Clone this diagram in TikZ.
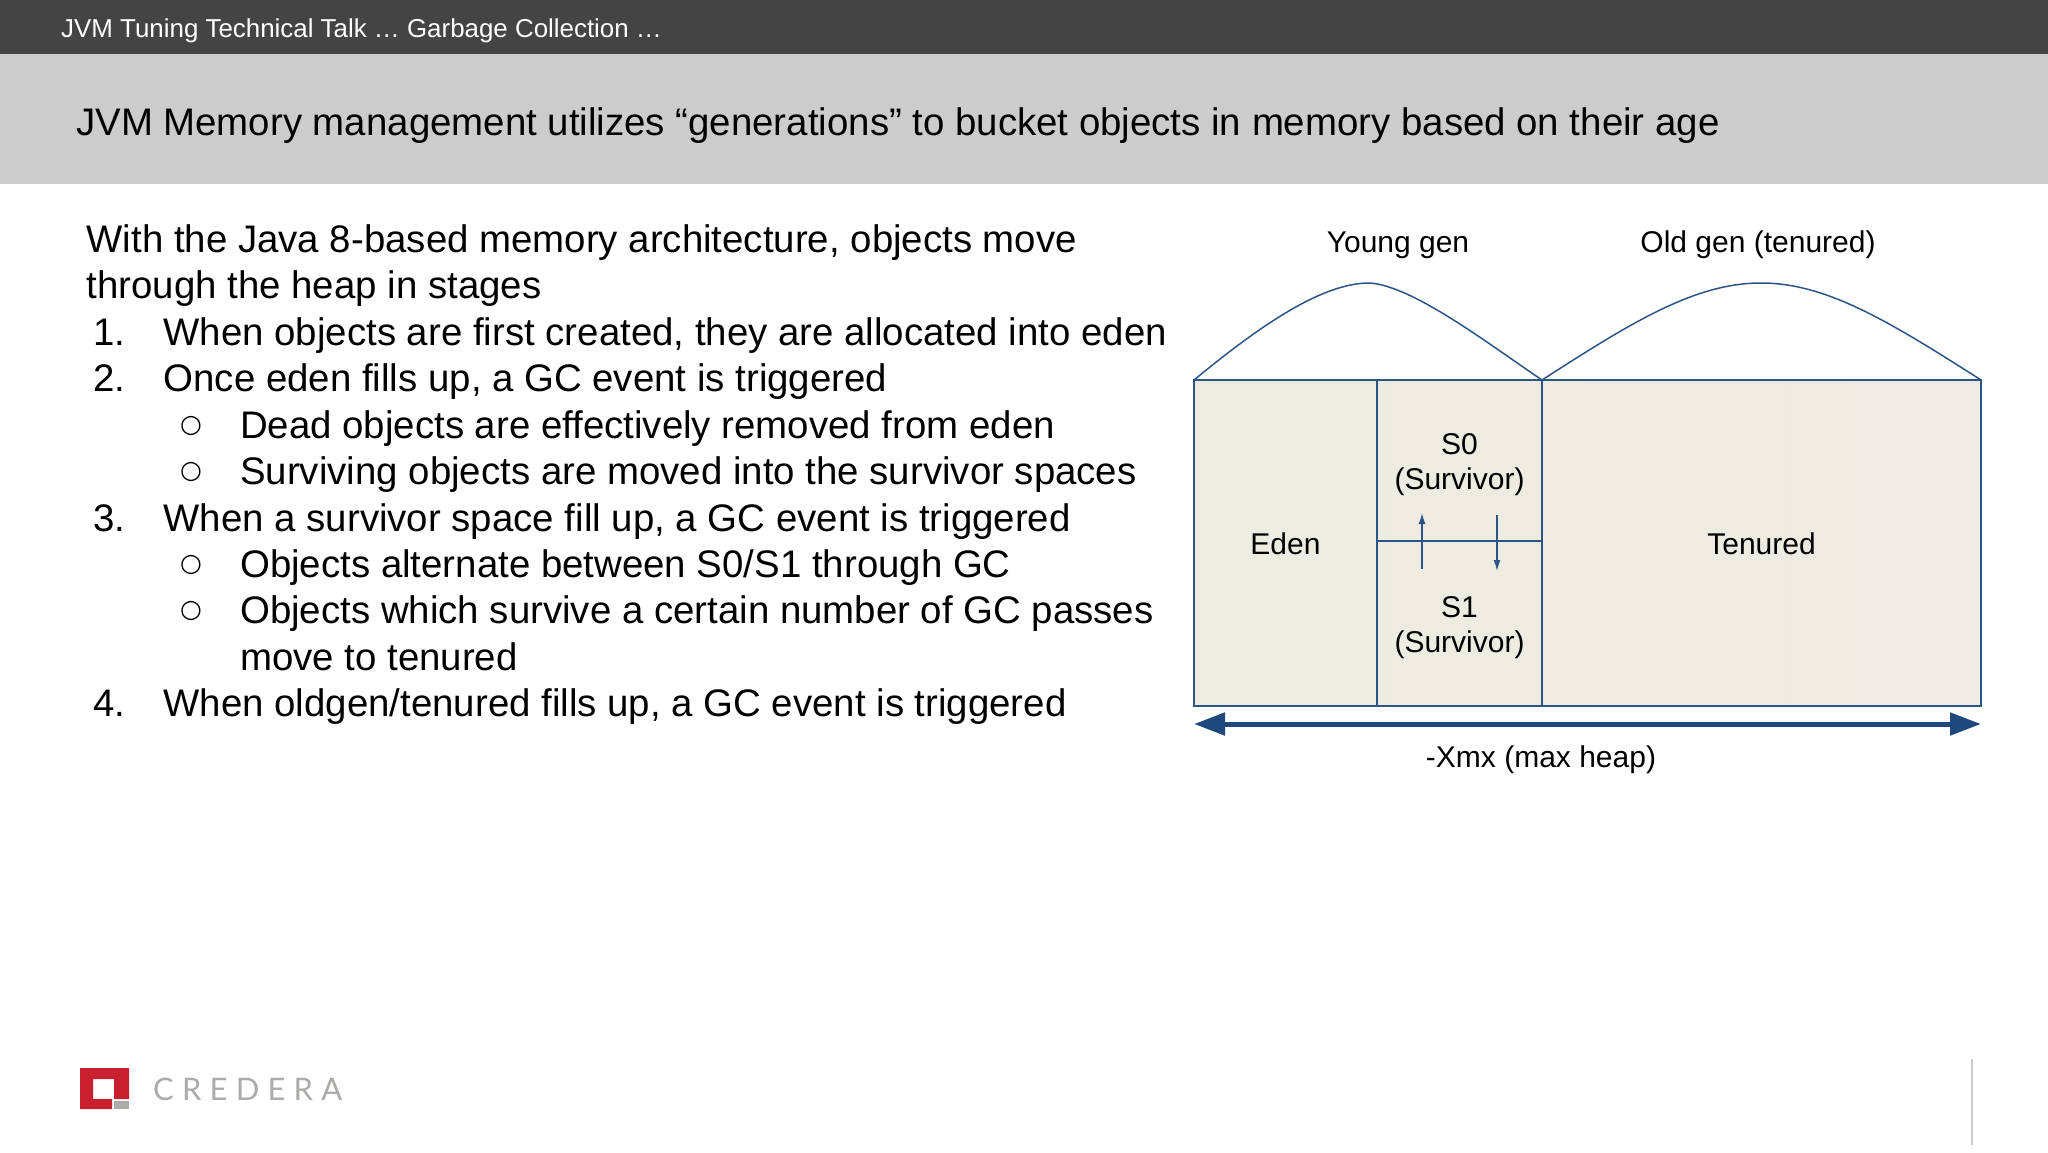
\documentclass[tikz,border=0pt]{standalone}
\usepackage{fontspec}
\setmainfont{Liberation Sans}
\newfontfamily\bulletfont{DejaVu Sans}
\newfontfamily\logofont[LetterSpace=26.4]{Lato}
\usetikzlibrary{arrows.meta}
\definecolor{barDark}{HTML}{444444}
\definecolor{barLight}{HTML}{CCCCCC}
\definecolor{lineBlue}{HTML}{2C5585}
\definecolor{arrowBlue}{HTML}{1F497D}
\definecolor{fillL}{HTML}{EDECE0}
\definecolor{fillR}{HTML}{EFEAE3}
\definecolor{logoRed}{HTML}{C8202F}
\definecolor{logoGray}{HTML}{ABABA9}
\begin{document}
\begin{tikzpicture}[x=1pt,y=-1pt,
  body/.style={anchor=base west,inner sep=0,font=\fontsize{38.4}{46}\selectfont},
  bul/.style={anchor=base west,inner sep=0,font=\fontsize{25}{30}\bulletfont},
  dia/.style={inner sep=0,align=center,font=\fontsize{30}{35.5}\selectfont},
  region/.style={draw=lineBlue,line width=1.5pt,inner sep=0,outer sep=0,align=center,font=\fontsize{30}{35.5}\selectfont,anchor=north west},
  curve/.style={draw=lineBlue,line width=1.5pt},
  small/.style={draw=lineBlue,line width=1.5pt,-{Latex[length=11pt,width=7pt]}},
  big/.style={draw=arrowBlue,line width=5pt,{Triangle[length=31pt,width=22pt]}-{Triangle[length=31pt,width=22pt]}}]
\useasboundingbox (0,0) rectangle (2048,1152);
\fill[white] (0,0) rectangle (2048,1152);
\fill[barDark] (0,0) rectangle (2048,54);
\fill[barLight] (0,54) rectangle (2048,184);
\node[anchor=base west,inner sep=0,text=white,font=\fontsize{25.9}{30}\selectfont] (hdr) at (61,37) {JVM Tuning Technical Talk … Garbage Collection …};
\node[anchor=base west,inner sep=0,text=black,font=\fontsize{38.4}{46}\selectfont] (ttl) at (76,135) {JVM Memory management utilizes “generations” to bucket objects in memory based on their age};
% body
\node[body] (l1) at (86.5,252) {With the Java 8-based memory architecture, objects move};
\node[body] (l2) at (86.5,298) {through the heap in stages};
\node[body] (n1) at (93,345) {1.};
\node[body] (i1) at (163.5,345) {When objects are first created, they are allocated into eden};
\node[body] (n2) at (93,391) {2.};
\node[body] (i2) at (163.5,391) {Once eden fills up, a GC event is triggered};
\node[bul] (b1) at (180,432) {○};
\node[body] (s1a) at (240,438) {Dead objects are effectively removed from eden};
\node[bul] (b2) at (180,478) {○};
\node[body] (s2a) at (240,484) {Surviving objects are moved into the survivor spaces};
\node[body] (n3) at (93,531) {3.};
\node[body] (i3) at (163.5,531) {When a survivor space fill up, a GC event is triggered};
\node[bul] (b3) at (180,571) {○};
\node[body] (s3a) at (240,577) {Objects alternate between S0/S1 through GC};
\node[bul] (b4) at (180,617) {○};
\node[body] (s4a) at (240,623) {Objects which survive a certain number of GC passes};
\node[body] (s4b) at (240,670) {move to tenured};
\node[body] (n4) at (93,716) {4.};
\node[body] (i4) at (163.5,716) {When oldgen/tenured fills up, a GC event is triggered};
% diagram
\fill[left color=fillL,right color=fillR] (1194,380) rectangle (1981,706);
\node[region,minimum width=183pt,minimum height=326pt] (eden) at (1194,380) {\rule{0pt}{23pt}Eden};
\node[region,minimum width=165pt,minimum height=161pt] (s0) at (1377,380) {\rule{0pt}{29pt}S0\\(Survivor)};
\node[region,minimum width=165pt,minimum height=165pt] (s1) at (1377,541) {\rule{0pt}{29pt}S1\\(Survivor)};
\node[region,minimum width=439pt,minimum height=326pt] (ten) at (1542,380) {\rule{0pt}{23pt}Tenured};
\node[dia] (yg) at (1398,245) {Young gen};
\node[dia] (og) at (1758,245) {Old gen (tenured)};
\node[dia] (xmx) at (1541,760) {-Xmx (max heap)};
\path[curve] (eden.north west) .. controls (1250,334) and (1318,283) .. (1369,283)
  .. controls (1412,285) and (1490,345) .. (ten.north west);
\path[curve] (ten.north west) .. controls (1632,322) and (1695,283) .. (1761,283)
  .. controls (1827,283) and (1890,322) .. (ten.north east);
\coordinate (upA) at (1422,569); \coordinate (upB) at (1422,513);
\coordinate (dnA) at (1497,515); \coordinate (dnB) at (1497,571);
\draw[small] (upA) -- (upB);
\draw[small] (dnA) -- (dnB);
\coordinate (bigL) at (1194,724); \coordinate (bigR) at (1981,724);
\draw[big] (bigL) -- (bigR);
% logo
\fill[logoRed] (80,1068) -- (129,1068) -- (129,1099) -- (114,1099) -- (114,1079) -- (93,1079) -- (93,1099) -- (112,1099) -- (112,1109) -- (80,1109) -- cycle;
\fill[logoGray] (114,1101) rectangle (129,1109);
\node[anchor=base west,inner sep=0,text=logoGray,font=\fontsize{31}{34}\logofont] (logo) at (153,1100) {CREDERA};
\draw[line width=2pt,draw=barLight] (1972,1059) -- (1972,1145);
\end{tikzpicture}
\end{document}
